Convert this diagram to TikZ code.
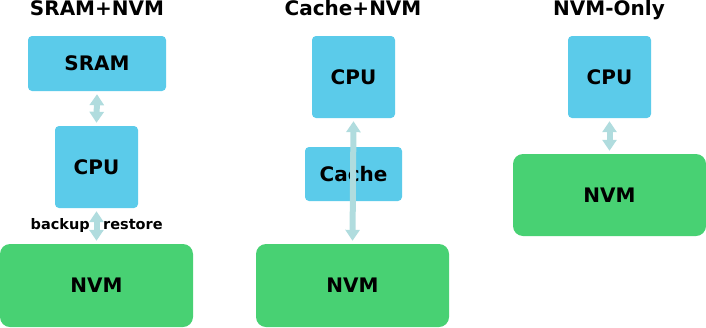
\documentclass[tikz,border=0pt]{standalone}
\usepackage{fontspec}
\setmainfont{DejaVu Sans}
\usetikzlibrary{arrows.meta}
\definecolor{boxblue}{HTML}{5BCBEA}
\definecolor{boxgreen}{HTML}{48D173}
\definecolor{arrowc}{HTML}{B0DCDE}
\tikzset{
  bluebox/.style={fill=boxblue, draw=none, rounded corners=4pt, inner sep=0pt, font=\fontsize{20}{24}\selectfont\bfseries},
  greenbox/.style={fill=boxgreen, draw=none, rounded corners=10pt, inner sep=0pt, font=\fontsize{20}{24}\selectfont\bfseries},
  title/.style={font=\fontsize{20}{24}\selectfont\bfseries, inner sep=0pt, anchor=base},
  lbl/.style={font=\fontsize{14.5}{17}\selectfont\bfseries, inner sep=0pt},
  conn/.style={draw=arrowc, line width=6pt, {Triangle[width=14pt,length=11pt]}-{Triangle[width=14pt,length=11pt]}}
}
\begin{document}
\begin{tikzpicture}[x=1pt,y=-1pt]
\useasboundingbox (0,0) rectangle (706,327);
% titles
\node[title] (t1) at (97,15) {SRAM+NVM};
\node[title] (t2) at (353,15) {Cache+NVM};
\node[title] (t3) at (609,15) {NVM-Only};
% left column
\node[bluebox, minimum width=138pt, minimum height=55pt] (sram) at (97,63.5) {SRAM};
\node[bluebox, minimum width=83pt, minimum height=82pt] (cpu1) at (96.5,167) {CPU};
\node[greenbox, minimum width=193pt, minimum height=83pt] (nvm1) at (96.5,285.5) {NVM};
\draw[conn] ([yshift=-3pt]sram.south) -- ([yshift=3pt]cpu1.north);
\draw[conn] ([yshift=-3pt]cpu1.south) -- ([yshift=3pt]nvm1.north);
\node[lbl, anchor=east] (bk) at (90,225) {backup};
\node[lbl, anchor=west] (rs) at (103,225) {restore};
% middle column
\node[bluebox, minimum width=83pt, minimum height=82pt] (cpu2) at (353.5,77) {CPU};
\node[bluebox, minimum width=97pt, minimum height=54pt] (cache) at (353.5,174) {Cache};
\node[greenbox, minimum width=193pt, minimum height=83pt] (nvm2) at (352.5,285.5) {NVM};
\draw[conn] ([yshift=-3pt]cpu2.south) -- ([yshift=3pt]nvm2.north);
% right column
\node[bluebox, minimum width=83pt, minimum height=82pt] (cpu3) at (609.5,77) {CPU};
\node[greenbox, minimum width=193pt, minimum height=82pt] (nvm3) at (609.5,195) {NVM};
\draw[conn] ([yshift=-3pt]cpu3.south) -- ([yshift=3pt]nvm3.north);
\end{tikzpicture}
\end{document}
